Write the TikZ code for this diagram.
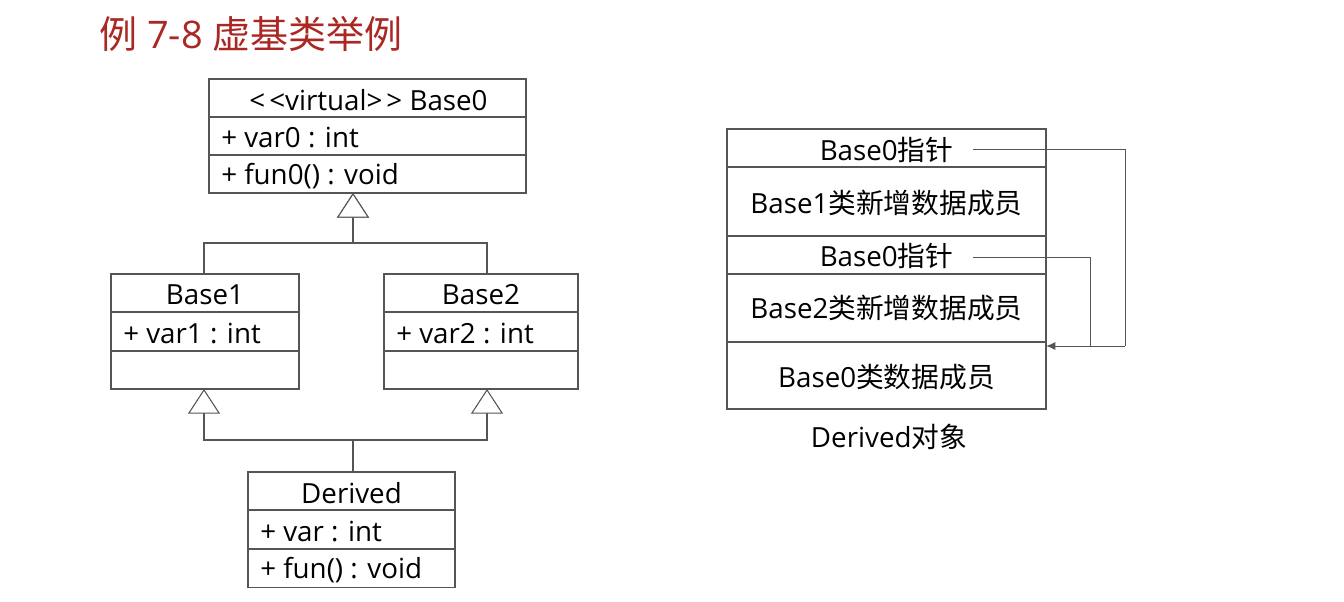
\documentclass[tikz,border=0pt]{standalone}
\usepackage{fontspec}
\setmainfont{Open Sans}
\newfontfamily\cjk{Noto Sans CJK SC}
\usetikzlibrary{arrows.meta,calc}
\definecolor{titlered}{RGB}{170,40,35}
\definecolor{linegray}{RGB}{85,85,85}
\tikzset{
  cell/.style={draw=linegray, line width=0.8pt, rectangle, inner sep=0pt, outer sep=0pt},
  txt/.style={inner sep=0pt, font=\fontsize{20.8}{24}\selectfont, text=black},
  inh/.style={draw=linegray, line width=0.8pt, -{Triangle[open, width=24pt, length=18.5pt, fill=white]}},
  ptr/.style={draw=linegray, line width=0.75pt, -{Latex[length=7pt, width=6pt]}},
  plain/.style={draw=linegray, line width=0.75pt},
}
\begin{document}
\begin{tikzpicture}[x=0.75pt, y=-0.75pt]
\useasboundingbox (0,0) rectangle (1344,602);
% title
\node[anchor=west, inner sep=0pt, text=titlered, font=\fontsize{28.5}{32}\selectfont] (title) at (99,34) {{\cjk 例} 7-8 {\cjk 虚基类举例}};

% Base0
\node[cell, minimum width=237.75pt, minimum height=28.5pt] (b0h) at (367.5,98) {};
\node[cell, minimum width=237.75pt, minimum height=28.5pt] (b0a) at (367.5,136) {};
\node[cell, minimum width=237.75pt, minimum height=28.5pt] (b0m) at (367.5,174) {};
\node[txt] (b0ht) at (368.5,100) {<\kern3pt<virtual>\kern3pt> Base0};
\node[txt, anchor=west] (b0at) at (221,138) {+ var0 : int};
\node[txt, anchor=west] (b0mt) at (221,176) {+ fun0() : void};

% Base1
\node[cell, minimum width=141pt, minimum height=28.5pt] (b1h) at (205,293) {};
\node[cell, minimum width=141pt, minimum height=28.5pt] (b1a) at (205,331.5) {};
\node[cell, minimum width=141pt, minimum height=28.5pt] (b1m) at (205,370) {};
\node[txt] (b1ht) at (205,295) {Base1};
\node[txt, anchor=west] (b1at) at (123,333.5) {+ var1 : int};

% Base2
\node[cell, minimum width=145.5pt, minimum height=28.5pt] (b2h) at (481,293) {};
\node[cell, minimum width=145.5pt, minimum height=28.5pt] (b2a) at (481,331.5) {};
\node[cell, minimum width=145.5pt, minimum height=28.5pt] (b2m) at (481,370) {};
\node[txt] (b2ht) at (481,295) {Base2};
\node[txt, anchor=west] (b2at) at (396,333.5) {+ var2 : int};

% Derived
\node[cell, minimum width=155.25pt, minimum height=28.5pt] (dh) at (351.5,491) {};
\node[cell, minimum width=155.25pt, minimum height=28.5pt] (da) at (351.5,529.5) {};
\node[cell, minimum width=155.25pt, minimum height=28.5pt] (dm) at (351.5,568.5) {};
\node[txt] (dht) at (351.5,493) {Derived};
\node[txt, anchor=west] (dat) at (260,531.5) {+ var : int};
\node[txt, anchor=west] (dmt) at (260,570.5) {+ fun() : void};

% inheritance connectors
\coordinate (j0) at (353,243);
\coordinate (j1) at (353,440);
\draw[inh] (b1h.north -| 204,0) |- (j0) -- (b0m.south -| j0);
\draw[inh] (b2h.north -| 487,0) |- (j0) -- (b0m.south -| j0);
\draw[inh] (dh.north -| j1) -- (j1) -| (b1m.south -| 204,0);
\draw[inh] (dh.north -| j1) -- (j1) -| (b2m.south -| 487,0);

% memory layout
\node[cell, minimum width=239.25pt, minimum height=28.5pt] (m1) at (886.5,148) {};
\node[cell, minimum width=239.25pt, minimum height=51.75pt] (m2) at (886.5,201.5) {};
\node[cell, minimum width=239.25pt, minimum height=28.5pt] (m3) at (886.5,255) {};
\node[cell, minimum width=239.25pt, minimum height=51pt] (m4) at (886.5,308) {};
\node[cell, minimum width=239.25pt, minimum height=50.25pt] (m5) at (886.5,375.5) {};
\node[txt] (m1t) at (886.5,150) {Base0{\cjk 指针}};
\node[txt] (m2t) at (886.5,203) {Base1{\cjk 类新增数据成员}};
\node[txt] (m3t) at (886.5,256) {Base0{\cjk 指针}};
\node[txt] (m4t) at (886.5,308) {Base2{\cjk 类新增数据成员}};
\node[txt] (m5t) at (886.5,377) {Base0{\cjk 类数据成员}};
\node[txt] (cap) at (889,437) {Derived{\cjk 对象}};

\coordinate (p1) at (973,150);
\coordinate (p2) at (973,257);
\coordinate (c1) at (1125,346);
\coordinate (c2) at (1090,346);
\draw[plain] (p1) -| (c1);
\draw[plain] (p2) -| (c2);
\draw[ptr] (c1) -- (m5.north east |- c1);
\end{tikzpicture}
\end{document}
